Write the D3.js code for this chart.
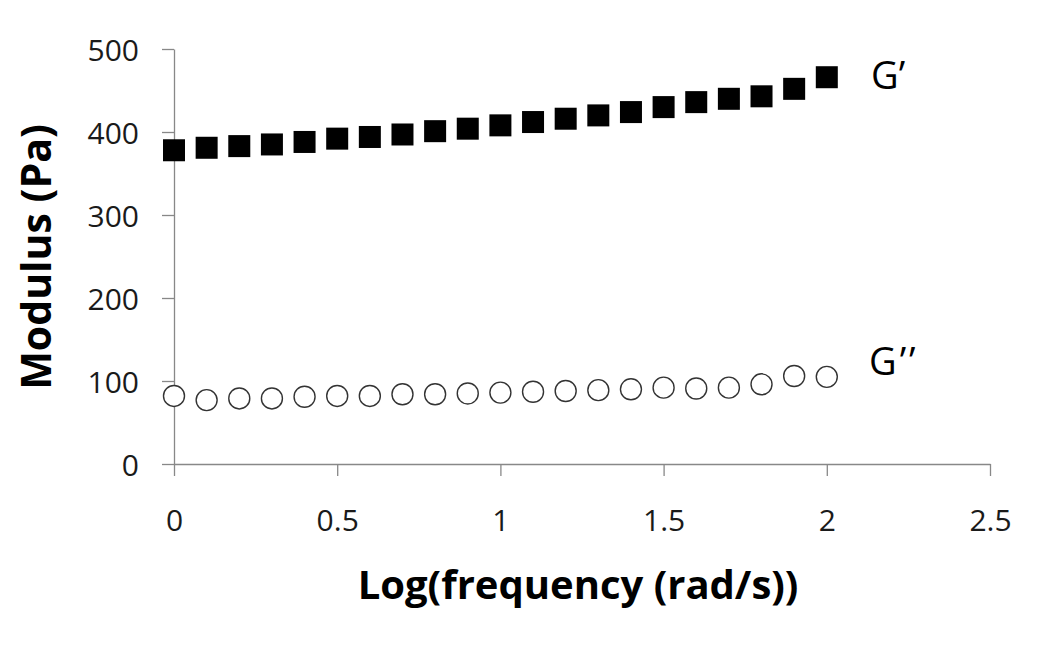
<!DOCTYPE html>
<html>
<head>
<meta charset="utf-8">
<script src="https://cdn.jsdelivr.net/npm/d3@7"></script>
<style>
  body { margin: 0; background: #fff; }
  svg { display: block; }
  .axis path, .axis line { stroke: #888; stroke-width: 1.3px; }
</style>
</head>
<body>
<svg id="chart" width="1050" height="659" font-family="'Open Sans', sans-serif"></svg>
<script>
// log(frequency) values, 0 to 2 in steps of 0.1
var logFreq = [0, 0.1, 0.2, 0.3, 0.4, 0.5, 0.6, 0.7, 0.8, 0.9, 1.0,
  1.1, 1.2, 1.3, 1.4, 1.5, 1.6, 1.7, 1.8, 1.9, 2.0];
// storage modulus G' (Pa)
var gPrime = [378, 381, 383, 385, 388, 392, 394, 397, 401, 404, 408,
  412, 416, 420, 424, 430, 436, 440, 443, 452, 466];
// loss modulus G'' (Pa)
var gDoublePrime = [82, 77, 79, 79, 81, 82, 82, 84, 84, 85, 86,
  87, 88, 89, 90, 92, 91, 92, 96, 106, 105];

var xTicks = [0, 0.5, 1, 1.5, 2, 2.5];
var yTicks = [0, 100, 200, 300, 400, 500];

var svg = d3.select('#chart');
var margin = { top: 49, left: 174 };
var innerWidth = 990 - margin.left;
var innerHeight = 464 - margin.top;

var xScale = d3.scaleLinear().domain([0, 2.5]).range([0, innerWidth]);
var yScale = d3.scaleLinear().domain([0, 500]).range([innerHeight, 0]);

var g = svg.append('g')
  .attr('transform', 'translate(' + margin.left + ',' + margin.top + ')');

// axes (tick text styled directly so it does not take d3's 10px sans-serif)
function styleTicks(a) {
  a.attr('font-family', "'Open Sans', sans-serif").attr('font-size', 30);
  a.selectAll('text').attr('fill', '#1a1a1a');
}

g.append('g')
  .attr('class', 'axis')
  .call(d3.axisLeft(yScale).tickValues(yTicks).tickSize(12).tickSizeOuter(0)
    .tickPadding(23).tickFormat(d3.format('d')))
  .call(styleTicks)
  .call(a => a.selectAll('text').attr('dy', '11px'));

g.append('g')
  .attr('class', 'axis')
  .attr('transform', 'translate(0,' + innerHeight + ')')
  .call(d3.axisBottom(xScale).tickValues(xTicks).tickSize(12).tickSizeOuter(0)
    .tickFormat(d => d))
  .call(styleTicks)
  .call(a => a.selectAll('text').attr('dy', null).attr('y', 67));

// G' squares
var sq = 22;
g.selectAll('rect.gp')
  .data(logFreq)
  .enter()
  .append('rect')
  .attr('class', 'gp')
  .attr('x', d => xScale(d) - sq / 2)
  .attr('y', (d, i) => yScale(gPrime[i]) - sq / 2)
  .attr('width', sq)
  .attr('height', sq)
  .style('fill', '#000');

// G'' open circles
g.selectAll('circle.gpp')
  .data(logFreq)
  .enter()
  .append('circle')
  .attr('class', 'gpp')
  .attr('cx', d => xScale(d))
  .attr('cy', (d, i) => yScale(gDoublePrime[i]))
  .attr('r', 10.5)
  .style('fill', '#fff')
  .style('stroke', '#333')
  .style('stroke-width', 1.4);

// series labels
svg.append('text')
  .attr('x', 871)
  .attr('y', 89)
  .attr('font-size', 38)
  .attr('fill', '#000')
  .text('G\u2019');
svg.append('text')
  .attr('x', 869)
  .attr('y', 375)
  .attr('font-size', 38)
  .attr('letter-spacing', 3)
  .attr('fill', '#000')
  .text('G\u2019\u2019');

// axis titles
svg.append('text')
  .attr('x', 578)
  .attr('y', 599)
  .attr('text-anchor', 'middle')
  .attr('font-size', 40)
  .attr('font-weight', 'bold')
  .text('Log(frequency (rad/s))');
svg.append('text')
  .attr('transform', 'translate(51,257) rotate(-90)')
  .attr('text-anchor', 'middle')
  .attr('font-size', 41)
  .attr('font-weight', 'bold')
  .text('Modulus (Pa)');
</script>
</body>
</html>
